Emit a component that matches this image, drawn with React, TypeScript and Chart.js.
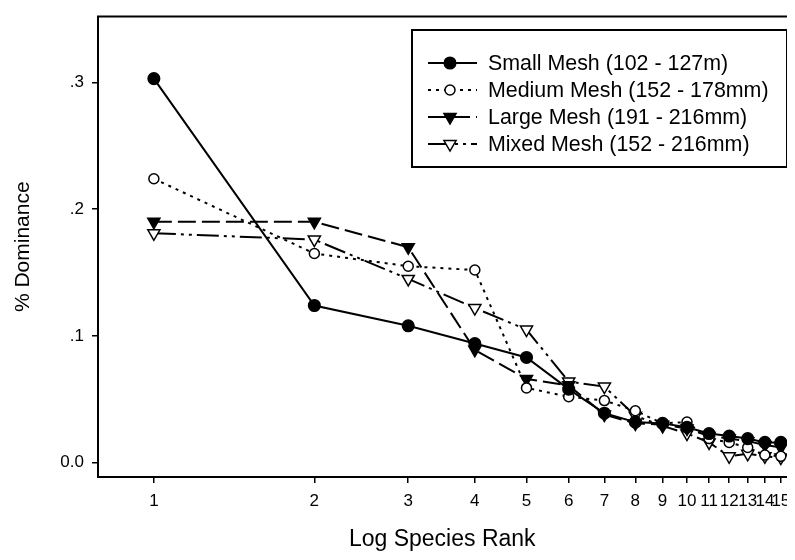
import React, { useEffect, useRef } from "react";
import { Chart, registerables } from "chart.js";

Chart.register(...registerables);

const RANKS = [1, 2, 3, 4, 5, 6, 7, 8, 9, 10, 11, 12, 13, 14, 15];
const SMALL = [0.303, 0.124, 0.108, 0.094, 0.083, 0.058, 0.039, 0.032, 0.031, 0.028, 0.023, 0.021, 0.019, 0.016, 0.016];
const MEDIUM = [0.224, 0.165, 0.155, 0.152, 0.059, 0.052, 0.049, 0.041, 0.031, 0.032, 0.019, 0.016, 0.012, 0.006, 0.005];
const LARGE = [0.19, 0.19, 0.17, 0.089, 0.066, 0.061, 0.038, 0.031, 0.03, 0.027, 0.021, 0.019, 0.017, 0.014, 0.012];
const MIXED = [0.181, 0.176, 0.145, 0.122, 0.105, 0.064, 0.06, 0.037, 0.029, 0.023, 0.016, 0.005, 0.007, 0.005, 0.004];

const SERIES_LABELS = [
  "Small Mesh (102 - 127m)",
  "Medium Mesh (152 - 178mm)",
  "Large Mesh (191 - 216mm)",
  "Mixed Mesh (152 - 216mm)",
];
const X_TICKS = RANKS;
const X_TICK_LABELS = ["1", "2", "3", "4", "5", "6", "7", "8", "9", "10", "11", "12", "13", "14", "15"];
const Y_TICKS = [0, 0.1, 0.2, 0.3];
const Y_TICK_LABELS = ["0.0", ".1", ".2", ".3"];
const X_TITLE = "Log Species Rank";
const Y_TITLE = "% Dominance";

const FONT = "'Liberation Sans', Arial, sans-serif";

type Style = {
  dash: number[];
  filled: boolean;
  shape: "circle" | "tri";
  radius: number;
};
const STYLES: Style[] = [
  { dash: [], filled: true, shape: "circle", radius: 5.8 },
  { dash: [3, 5], filled: false, shape: "circle", radius: 5 },
  { dash: [18, 6], filled: true, shape: "tri", radius: 7 },
  { dash: [22, 5, 3, 5, 3, 5], filled: false, shape: "tri", radius: 7 },
];

function drawMarker(ctx: CanvasRenderingContext2D, x: number, y: number, st: Style) {
  ctx.save();
  ctx.setLineDash([]);
  ctx.lineWidth = 1.5;
  ctx.strokeStyle = "#000";
  ctx.fillStyle = st.filled ? "#000" : "#fff";
  ctx.beginPath();
  if (st.shape === "circle") {
    ctx.arc(x, y, st.radius, 0, Math.PI * 2);
  } else {
    const r = st.radius;
    const hw = (r * Math.sqrt(3)) / 2;
    ctx.moveTo(x - hw, y - r * 0.5);
    ctx.lineTo(x + hw, y - r * 0.5);
    ctx.lineTo(x, y + r);
    ctx.closePath();
  }
  ctx.fill();
  ctx.stroke();
  ctx.restore();
}

const framePlugin = {
  id: "frameAndLegend",
  afterDraw(chart: any) {
    const { ctx, chartArea } = chart;
    ctx.save();
    ctx.strokeStyle = "#000";
    ctx.lineWidth = 2;
    ctx.beginPath();
    ctx.moveTo(chartArea.left - 1, chartArea.top);
    ctx.lineTo(chartArea.right + 2, chartArea.top);
    ctx.stroke();

    // legend box
    const bx = 404, by = 22, bw = 375, bh = 137;
    ctx.fillStyle = "#fff";
    ctx.fillRect(bx, by, bw, bh);
    ctx.lineWidth = 2;
    ctx.strokeRect(bx, by, bw, bh);
    ctx.font = `21.4px ${FONT}`;
    ctx.textBaseline = "middle";
    ctx.textAlign = "left";
    for (let i = 0; i < SERIES_LABELS.length; i++) {
      const y = 55 + i * 27;
      const st = STYLES[i];
      ctx.save();
      ctx.lineWidth = 2;
      ctx.setLineDash(st.dash);
      ctx.beginPath();
      ctx.moveTo(420, y);
      ctx.lineTo(469, y);
      ctx.stroke();
      ctx.restore();
      drawMarker(ctx, 442, y, st);
      ctx.fillStyle = "#000";
      ctx.fillText(SERIES_LABELS[i], 480, y + 1);
    }
    ctx.restore();
  },
};

export default function App() {
  const ref = useRef<HTMLCanvasElement>(null);
  useEffect(() => {
    if (!ref.current) return;
    const all = [SMALL, MEDIUM, LARGE, MIXED];
    const datasets = all.map((vals, i) => {
      const st = STYLES[i];
      return {
        label: SERIES_LABELS[i],
        data: RANKS.map((r, j) => ({ x: r, y: vals[j] })),
        borderColor: "#000",
        borderWidth: 2,
        borderDash: st.dash,
        borderCapStyle: "butt",
        backgroundColor: st.filled ? "#000" : "#fff",
        pointBackgroundColor: st.filled ? "#000" : "#fff",
        pointBorderColor: "#000",
        pointBorderWidth: 1.5,
        pointStyle: st.shape === "circle" ? "circle" : "triangle",
        pointRotation: st.shape === "circle" ? 0 : 180,
        pointRadius: st.radius,
        tension: 0,
        fill: false,
        clip: false,
      };
    });
    const chart = new Chart(ref.current, {
      type: "line",
      data: { datasets: datasets as any },
      options: {
        animation: false,
        responsive: false,
        devicePixelRatio: 1,
        layout: { padding: { top: 1, right: 0, left: 0, bottom: 0 } },
        plugins: { legend: { display: false }, tooltip: { enabled: false } },
        scales: {
          x: {
            type: "logarithmic",
            min: 0.7856,
            max: 15.37,
            afterBuildTicks: (s: any) => {
              s.ticks = X_TICKS.map((v) => ({ value: v }));
            },
            afterFit: (s: any) => {
              s.height = 83;
              s.paddingLeft = 0;
              s.paddingRight = 0;
            },
            grid: { drawOnChartArea: false, drawTicks: true, tickLength: 6, color: "#000", lineWidth: 1.5 },
            border: { display: true, color: "#000", width: 2 },
            ticks: {
              autoSkip: false,
              maxRotation: 0,
              minRotation: 0,
              padding: 8,
              color: "#000",
              font: { family: FONT, size: 17 },
              callback: (v: any) => {
                const idx = X_TICKS.indexOf(Number(v));
                return idx >= 0 ? X_TICK_LABELS[idx] : "";
              },
            },
            title: {
              display: true,
              text: X_TITLE,
              color: "#000",
              font: { family: FONT, size: 23 },
              padding: { top: 0, bottom: 7 },
            },
          },
          y: {
            type: "linear",
            min: -0.0113,
            max: 0.352,
            afterBuildTicks: (s: any) => {
              s.ticks = Y_TICKS.map((v) => ({ value: v }));
            },
            afterFit: (s: any) => {
              s.width = 90;
              s.paddingTop = 0;
              s.paddingBottom = 0;
            },
            grid: { drawOnChartArea: false, drawTicks: true, tickLength: 6, color: "#000", lineWidth: 1.5 },
            border: { display: true, color: "#000", width: 2 },
            ticks: {
              padding: 8,
              color: "#000",
              font: { family: FONT, size: 17 },
              callback: (v: any) => {
                const idx = Y_TICKS.findIndex((t) => Math.abs(t - Number(v)) < 1e-9);
                return idx >= 0 ? Y_TICK_LABELS[idx] : "";
              },
            },
            title: {
              display: true,
              text: Y_TITLE,
              color: "#000",
              font: { family: FONT, size: 21 },
              padding: { top: 3, bottom: 0 },
            },
          },
        },
      },
      plugins: [framePlugin],
    });
    return () => chart.destroy();
  }, []);
  return <canvas ref={ref} width={787} height={552} style={{ display: "block" }} />;
}
